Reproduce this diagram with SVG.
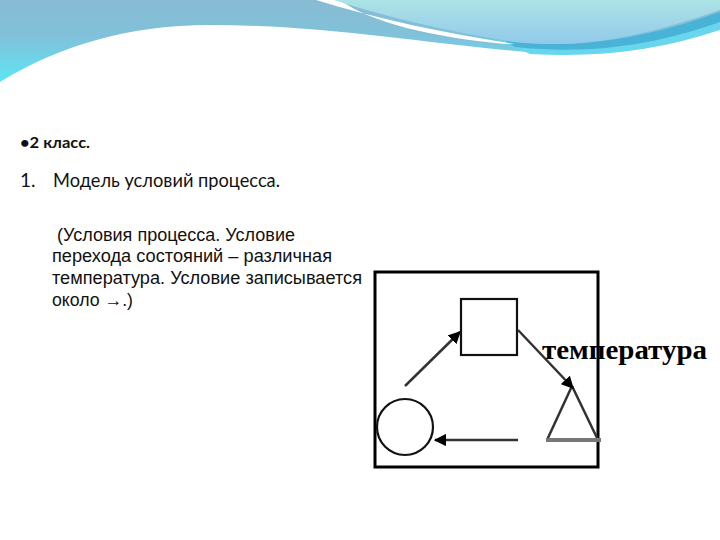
<svg xmlns="http://www.w3.org/2000/svg" width="720" height="540" viewBox="0 0 720 540">
<defs>
<linearGradient id="gBlue" x1="0" y1="0" x2="0" y2="1">
<stop offset="0" stop-color="#88bbd4"/>
<stop offset="0.45" stop-color="#80c2da"/>
<stop offset="1" stop-color="#5ce6f4"/>
</linearGradient>
<linearGradient id="gLight" x1="0" y1="0" x2="0" y2="1">
<stop offset="0" stop-color="#ace3e6"/>
<stop offset="1" stop-color="#92c9ea"/>
</linearGradient>
<marker id="ah" viewBox="0 0 10 10" refX="9" refY="5" markerWidth="5" markerHeight="5" orient="auto" markerUnits="strokeWidth">
<path d="M0,0 L10,5 L0,10 Z" fill="#000"/>
</marker>
<style>
.t{font-family:Lato,"Open Sans","Noto Sans",sans-serif;fill:#111}
.p{font-family:"Liberation Sans",Arial,sans-serif;font-size:17.5px;fill:#111}
.ln{stroke:#333;stroke-width:2.5;fill:none}
.sh{stroke:#111;stroke-width:2.2;fill:#fff}
</style>
</defs>
<rect width="720" height="540" fill="#fff"/>
<g id="background">
<path d="M0,0 L720,0 L720,28 C680,42 620,56 540,53 C430,45 330,25 210,25 C130,25 60,45 0,82 Z" fill="url(#gBlue)"/>
<path d="M500,40 C580,50 650,40 720,14 L720,30 C660,50 600,58 530,54 Z" fill="#68d6ec"/>
<path d="M505,41 C585,51 655,35 720,12 L720,22 C655,45 590,55 515,47 Z" fill="#49b3d7"/>
<path d="M316,0 C380,20 450,34 515,44 L505,44 C430,37 370,22 340,0 Z" fill="#ffffff"/>
<path d="M334,0 C390,18 450,32 515,42 C585,50 650,34 720,10 L720,0 Z" fill="url(#gLight)"/>
</g>
<g id="text">
<text class="t" x="20" y="148" font-size="16" font-weight="bold" textLength="70" lengthAdjust="spacingAndGlyphs">•2 класс.</text>
<text class="t" x="20" y="187" font-size="19">1.</text>
<text class="t" x="53" y="187" font-size="19" textLength="227" lengthAdjust="spacingAndGlyphs">Модель условий процесса.</text>
<text class="p" x="57" y="241" textLength="238" lengthAdjust="spacingAndGlyphs">(Условия процесса. Условие</text>
<text class="p" x="52" y="262" textLength="280" lengthAdjust="spacingAndGlyphs">перехода состояний – различная</text>
<text class="p" x="52" y="284" textLength="310" lengthAdjust="spacingAndGlyphs">температура. Условие записывается</text>
<text class="p" x="52" y="306" textLength="81" lengthAdjust="spacingAndGlyphs">около →.)</text>
</g>
<g id="label">
<text x="542" y="359" font-family="'Liberation Serif','DejaVu Serif',serif" font-size="27" font-weight="bold" fill="#000" textLength="165" lengthAdjust="spacingAndGlyphs">температура</text>
</g>
<g id="frame">
<rect x="375" y="272" width="223" height="195" fill="none" stroke="#000" stroke-width="3"/>
</g>
<g id="square">
<rect x="461" y="299" width="56" height="56" class="sh"/>
</g>
<g id="circle">
<circle cx="405" cy="427" r="28" class="sh" stroke="#333"/>
</g>
<g id="triangle">
<path d="M572,386 L547,440 M572,386 L598,440" stroke="#333" stroke-width="2.5" fill="none"/>
<line x1="546" y1="440" x2="601" y2="440" stroke="#777" stroke-width="4"/>
</g>
<g id="connectors">
<line x1="405" y1="386" x2="460" y2="332" class="ln" marker-end="url(#ah)"/>
<line x1="518" y1="330" x2="573" y2="388" class="ln" marker-end="url(#ah)"/>
<line x1="518" y1="440" x2="435" y2="440" class="ln" marker-end="url(#ah)"/>
</g>
</svg>
